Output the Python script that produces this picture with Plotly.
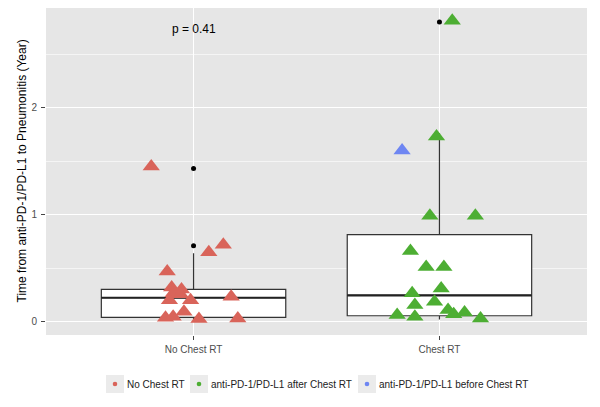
import plotly.graph_objects as go

# ---- data ----
categories = ["No Chest RT", "Chest RT"]
cat_pos = [1, 2]

# jittered points: x (jittered position), y (years)
no_rt_x = [0.828, 1.121, 1.062, 0.893, 0.911, 0.951, 0.917, 0.947, 0.902, 0.988, 1.153, 0.961, 0.886, 0.917, 1.022, 1.180]
no_rt_y = [1.45, 0.72, 0.65, 0.47, 0.32, 0.30, 0.265, 0.256, 0.20, 0.20, 0.234, 0.094, 0.037, 0.047, 0.025, 0.03]

after_x = [2.052, 1.988, 1.961, 2.146, 1.882, 1.946, 2.018, 2.007, 1.889, 1.900, 1.980, 1.828, 1.900, 2.035, 2.058, 2.102, 2.167]
after_y = [2.81, 1.73, 0.99, 0.99, 0.66, 0.51, 0.51, 0.31, 0.265, 0.156, 0.187, 0.063, 0.047, 0.11, 0.07, 0.085, 0.03]

before_x = [1.848]
before_y = [1.60]

# box statistics per category
box_q1 = [0.041, 0.056]
box_median = [0.224, 0.247]
box_q3 = [0.303, 0.813]
box_lower = [0.02, 0.02]
box_upper = [0.64, 1.76]
box_width = 0.75

# outliers
outlier_x = [1, 1, 2]
outlier_y = [1.43, 0.71, 2.80]

p_label = "p = 0.41"
p_y = 2.73

y_title = "Time from anti-PD-1/PD-L1 to Pneumonitis (Year)"
legend_names = ["No Chest RT", "anti-PD-1/PD-L1 after Chest RT", "anti-PD-1/PD-L1 before Chest RT"]

red = "#D9645A"
green = "#4DAE33"
blue = "#6E86F2"
legend_colors = [red, green, blue]

# layout geometry (pixels, figure coordinates; page body adds an 8px offset)
OFF = 8
W, H = 600, 407
ML, MR, MT, MB = 38, 21, 0, 80
PW, PH = W - ML - MR, H - MT - MB

def px_x(px):
    return (px - OFF - ML) / PW

def px_y(py):
    return (H - MB - (py - OFF)) / PH

fig = go.Figure()

# boxes
fig.add_trace(go.Box(
    x=cat_pos, q1=box_q1, median=box_median, q3=box_q3,
    lowerfence=box_lower, upperfence=box_upper,
    width=box_width, whiskerwidth=0, boxpoints=False,
    fillcolor="white", line=dict(color="#333333", width=1.2),
    showlegend=False, hoverinfo="skip"))

# thicker median lines
for c, m in zip(cat_pos, box_median):
    fig.add_trace(go.Scatter(
        x=[c - box_width / 2, c + box_width / 2], y=[m, m], mode="lines",
        line=dict(color="#222222", width=2.2), showlegend=False, hoverinfo="skip"))

# outliers
fig.add_trace(go.Scatter(x=outlier_x, y=outlier_y, mode="markers",
                         marker=dict(color="black", size=5), showlegend=False))

tri = dict(symbol="triangle-up", size=15, line=dict(width=0))
fig.add_trace(go.Scatter(x=no_rt_x, y=no_rt_y, mode="markers", name=legend_names[0],
                         marker=dict(color=red, **tri), showlegend=False))
fig.add_trace(go.Scatter(x=after_x, y=after_y, mode="markers", name=legend_names[1],
                         marker=dict(color=green, **tri), showlegend=False))
fig.add_trace(go.Scatter(x=before_x, y=before_y, mode="markers", name=legend_names[2],
                         marker=dict(color=blue, **tri), showlegend=False))

fig.add_annotation(x=1, y=p_y, text=p_label, showarrow=False,
                   font=dict(size=12, color="black"))

# y-axis title
fig.add_annotation(xref="paper", yref="paper", x=px_x(21), y=0.5, text=y_title,
                   textangle=-90, showarrow=False, xanchor="center", yanchor="middle",
                   font=dict(size=12, color="black"))

# manual ggplot-style legend (grey keys with dots); positions in screen pixels
key_left_px = [106, 190, 358]
key_w, key_h = 18, 18
leg_cy = 384
for name, col, kx in zip(legend_names, legend_colors, key_left_px):
    fig.add_shape(type="rect", xref="paper", yref="paper",
                  x0=px_x(kx), x1=px_x(kx + key_w),
                  y0=px_y(leg_cy + key_h / 2), y1=px_y(leg_cy - key_h / 2),
                  fillcolor="#EBEBEB", line=dict(width=0), layer="below")
    cx = kx + key_w / 2
    fig.add_shape(type="circle", xref="paper", yref="paper",
                  x0=px_x(cx - 2.3), x1=px_x(cx + 2.3),
                  y0=px_y(leg_cy + 2.3), y1=px_y(leg_cy - 2.3),
                  fillcolor=col, line=dict(width=0))
    fig.add_annotation(xref="paper", yref="paper", x=px_x(kx + key_w + 1), y=px_y(leg_cy),
                       text=name, showarrow=False, xanchor="left", yanchor="middle",
                       font=dict(size=10, color="#222222"))

fig.update_layout(
    width=W, height=H,
    margin=dict(l=ML, r=MR, t=MT, b=MB),
    paper_bgcolor="white", plot_bgcolor="#E6E6E6",
    font=dict(family="Liberation Sans, Arial, sans-serif", color="#222222"),
    showlegend=False,
)
fig.update_xaxes(range=[0.4, 2.6], tickvals=cat_pos, ticktext=categories, automargin=False,
                 showgrid=True, gridcolor="white", gridwidth=1.2, zeroline=False,
                 ticks="outside", ticklen=4, tickcolor="#444444", ticklabelstandoff=1,
                 tickfont=dict(size=10, color="#4D4D4D"))
fig.update_yaxes(range=[-0.124, 2.93], tickvals=[0, 1, 2], automargin=False,
                 showgrid=True, gridcolor="white", gridwidth=1.2, zeroline=False,
                 minor=dict(tickvals=[0.5, 1.5, 2.5], showgrid=True, gridcolor="#F5F5F5", gridwidth=0.6),
                 ticks="outside", ticklen=4, tickcolor="#444444", ticklabelstandoff=2,
                 tickfont=dict(size=10, color="#4D4D4D"))

fig.write_html("out.html")
